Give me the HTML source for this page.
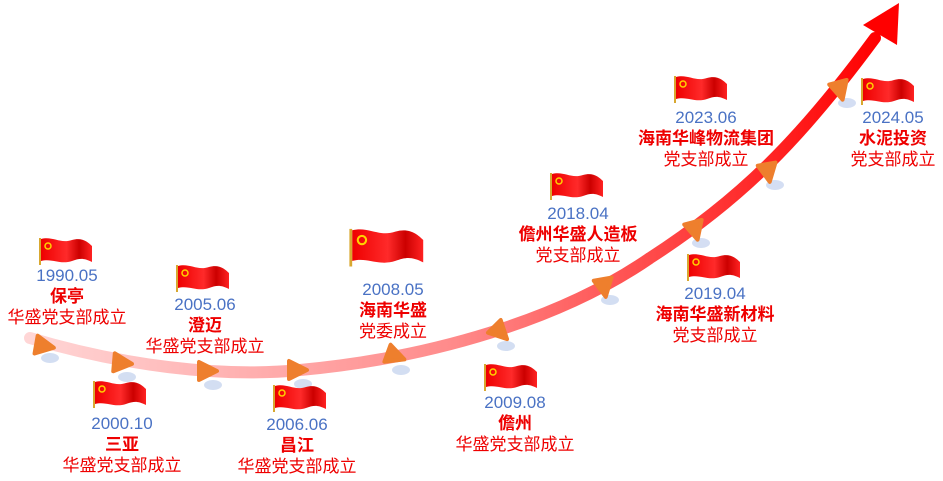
<!DOCTYPE html>
<html><head><meta charset="utf-8"><style>
html,body{margin:0;padding:0;background:#fff;}
body{width:943px;height:481px;position:relative;overflow:hidden;font-family:"Liberation Sans","Noto Sans CJK SC",sans-serif;}
.t{position:absolute;width:220px;margin-left:-110px;text-align:center;font-size:17px;line-height:21px;white-space:nowrap;}
.y{color:#4a72c4;}
.n{color:#e00;font-weight:bold;}
.d{color:#e00;}
</style></head><body>
<svg width="943" height="481" style="position:absolute;left:0;top:0">
<defs>
<linearGradient id="g" x1="30" y1="0" x2="880" y2="0" gradientUnits="userSpaceOnUse">
<stop offset="0" stop-color="#ffd6d6"/><stop offset="0.5" stop-color="#ff8a8a"/><stop offset="1" stop-color="#ff0000"/>
</linearGradient>
<linearGradient id="fg" x1="0" y1="0" x2="1" y2="0">
<stop offset="0" stop-color="#e00"/><stop offset=".5" stop-color="#ff2a2a"/><stop offset=".75" stop-color="#c00"/><stop offset="1" stop-color="#f22"/>
</linearGradient>
<symbol id="flag" viewBox="0 0 56 30">
<path d="M3 3 C15 0,22 8,34 4 C44 1,50 6,54 10 L54 26 C46 22,42 22,34 25 C22 29,14 22,3 25 Z" fill="url(#fg)"/>
<rect x="1" y="2" width="2" height="27" fill="#d8a830"/>
<circle cx="10" cy="10" r="3" fill="none" stroke="#ffd200" stroke-width="1.5"/>
</symbol>
<symbol id="tri" viewBox="-12 -12 24 24" overflow="visible">
<polygon points="-8,-9 -8,9 10,0" fill="#ee7f2d" stroke="#ee7f2d" stroke-width="4" stroke-linejoin="round"/>
</symbol>
</defs>
<path d="M30 338 C120 365,220 378,300 370 C430 358,560 320,650 258 C740 200,800 140,875 38" fill="none" stroke="url(#g)" stroke-width="12" stroke-linecap="round"/>
<polygon points="899,3 897,45 863,25" fill="#ff0000"/>
<g fill="#c9d6f0" opacity=".8">
<ellipse cx="50" cy="358" rx="9" ry="5"/><ellipse cx="127" cy="377" rx="9" ry="5"/><ellipse cx="213" cy="385" rx="9" ry="5"/><ellipse cx="303" cy="384" rx="9" ry="5"/><ellipse cx="401" cy="370" rx="9" ry="5"/><ellipse cx="506" cy="346" rx="9" ry="5"/><ellipse cx="610" cy="300" rx="9" ry="5"/><ellipse cx="701" cy="243" rx="9" ry="5"/><ellipse cx="775" cy="185" rx="9" ry="5"/><ellipse cx="847" cy="103" rx="9" ry="5"/>
</g>
<g>
<use href="#tri" x="32" y="334" width="24" height="24" transform="rotate(10 44 346)"/>
<use href="#tri" x="110" y="351" width="24" height="24" transform="rotate(5 122 363)"/>
<use href="#tri" x="195" y="359" width="24" height="24"/>
<use href="#tri" x="285" y="358" width="24" height="24"/>
<use href="#tri" x="383" y="344" width="24" height="24" transform="rotate(20 395 356)"/>
<use href="#tri" x="488" y="320" width="24" height="24" transform="rotate(45 500 332)"/>
<use href="#tri" x="592" y="275" width="24" height="24" transform="rotate(80 604 287)"/>
<use href="#tri" x="683" y="218" width="24" height="24" transform="rotate(75 695 230)"/>
<use href="#tri" x="756" y="160" width="24" height="24" transform="rotate(80 768 172)"/>
<use href="#tri" x="828" y="78" width="24" height="24" transform="rotate(75 840 90)"/>
</g>
<use href="#flag" x="38" y="236" width="56" height="30"/>
<use href="#flag" x="92" y="379" width="56" height="30"/>
<use href="#flag" x="175" y="263" width="56" height="30"/>
<use href="#flag" x="272" y="383" width="56" height="30"/>
<use href="#flag" x="348" y="223" width="78" height="48"/>
<use href="#flag" x="483" y="362" width="56" height="30"/>
<use href="#flag" x="549" y="171" width="56" height="30"/>
<use href="#flag" x="686" y="252" width="56" height="30"/>
<use href="#flag" x="673" y="74" width="56" height="30"/>
<use href="#flag" x="860" y="76" width="56" height="30"/>
</svg>
<div class="t" style="left:67px;top:265px"><div class="y">1990.05</div><div class="n">保亭</div><div class="d">华盛党支部成立</div></div>
<div class="t" style="left:122px;top:413px"><div class="y">2000.10</div><div class="n">三亚</div><div class="d">华盛党支部成立</div></div>
<div class="t" style="left:205px;top:294px"><div class="y">2005.06</div><div class="n">澄迈</div><div class="d">华盛党支部成立</div></div>
<div class="t" style="left:297px;top:414px"><div class="y">2006.06</div><div class="n">昌江</div><div class="d">华盛党支部成立</div></div>
<div class="t" style="left:393px;top:279px"><div class="y">2008.05</div><div class="n">海南华盛</div><div class="d">党委成立</div></div>
<div class="t" style="left:515px;top:392px"><div class="y">2009.08</div><div class="n">儋州</div><div class="d">华盛党支部成立</div></div>
<div class="t" style="left:578px;top:203px"><div class="y">2018.04</div><div class="n">儋州华盛人造板</div><div class="d">党支部成立</div></div>
<div class="t" style="left:715px;top:283px"><div class="y">2019.04</div><div class="n">海南华盛新材料</div><div class="d">党支部成立</div></div>
<div class="t" style="left:706px;top:107px"><div class="y">2023.06</div><div class="n">海南华峰物流集团</div><div class="d">党支部成立</div></div>
<div class="t" style="left:893px;top:107px"><div class="y">2024.05</div><div class="n">水泥投资</div><div class="d">党支部成立</div></div>
</body></html>
